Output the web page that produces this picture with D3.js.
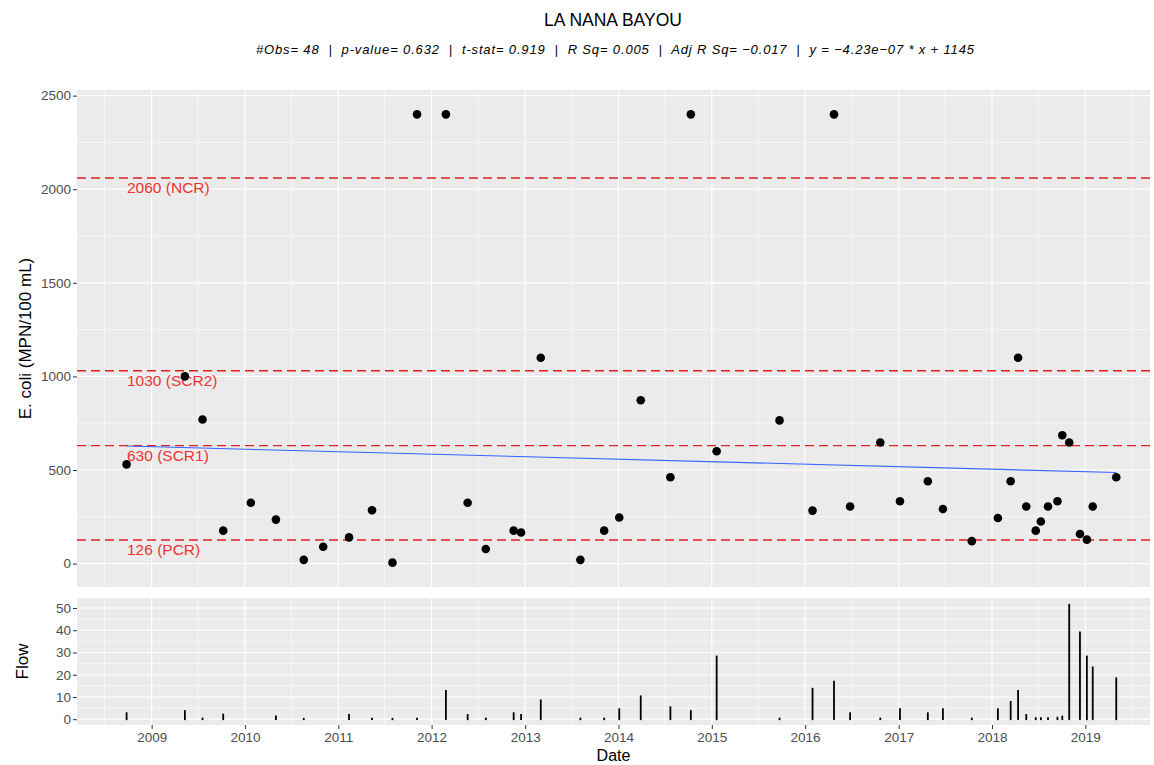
<!DOCTYPE html>
<html>
<head>
<meta charset="utf-8">
<script src="https://cdn.jsdelivr.net/npm/d3@7"></script>
<style>
  body { margin: 0; background: #fff; }
  text { font-family: "Liberation Sans", Arial, sans-serif; }
</style>
</head>
<body>
<div id="chart"></div>
<script>
// sample dates, E. coli results and flow (null = no flow recorded)
const sampleDates = [
  "2008-09-25", "2009-05-11", "2009-07-19", "2009-10-08", "2010-01-24", "2010-05-02",
  "2010-08-19", "2010-11-03", "2011-02-12", "2011-05-13", "2011-08-01", "2011-11-05",
  "2012-02-26", "2012-05-21", "2012-07-31", "2012-11-17", "2012-12-16", "2013-03-03",
  "2013-08-05", "2013-11-06", "2014-01-04", "2014-03-29", "2014-07-23", "2014-10-11",
  "2015-01-20", "2015-09-23", "2016-01-30", "2016-04-23", "2016-06-25", "2016-10-21",
  "2017-01-06", "2017-04-25", "2017-06-23", "2017-10-14", "2018-01-24", "2018-03-15",
  "2018-04-13", "2018-05-15", "2018-06-21", "2018-07-11", "2018-08-08", "2018-09-14",
  "2018-10-03", "2018-10-30", "2018-12-11", "2019-01-07", "2019-01-30", "2019-05-02"
];
const ecoli = [
  530, 1000, 770, 176, 325, 235,
  20, 90, 140, 285, 5, 2400,
  2400, 325, 78, 176, 166, 1100,
  20, 176, 246, 873, 461, 2400,
  600, 765, 283, 2400, 305, 647,
  333, 440, 292, 120, 244, 440,
  1100, 305, 176, 225, 305, 333,
  686, 647, 158, 128, 305, 461
];
const flow = [
  2.7, 3.7, 0.3, 2.1, null, 1.3,
  0.2, null, 1.9, 0.3, 0.2, 0.3,
  12.7, 1.9, 0.3, 2.7, 1.9, 8.5,
  0.3, 0.3, 4.5, 10.3, 5.4, 3.7,
  28.2, 0.3, 13.7, 16.9, 2.7, 0.3,
  4.5, 2.7, 4.5, 0.3, 4.5, 7.8,
  12.7, 1.9, 0.5, 0.5, 0.5, 0.7,
  1.2, 51.5, 39, 28.2, 23.3, 18.4
];

// criteria lines
const critValues = [2060, 1030, 630, 126];
const critLabels = ["2060 (NCR)", "1030 (SCR2)", "630 (SCR1)", "126 (PCR)"];

// regression from the subtitle (x in seconds since 1970)
const regSlope = -4.23e-07;
const regIntercept = 1145;

const ecoliTicks = [0, 500, 1000, 1500, 2000, 2500];
const flowTicks = [0, 10, 20, 30, 40, 50];

const title = "LA NANA BAYOU";
const subtitle = "#Obs= 48  |  p-value= 0.632  |  t-stat= 0.919  |  R Sq= 0.005  |  Adj R Sq= \u22120.017  |  y = \u22124.23e\u221207 * x + 1145";

const W = 1154, H = 765;
const left = 77, right = 1150;
const top1 = 90, bot1 = 587;
const top2 = 598, bot2 = 725;

const parse = d3.utcParse("%Y-%m-%d");
const rows = sampleDates.map((d, i) => ({ date: parse(d), ecoli: ecoli[i], flow: flow[i] }));

const svg = d3.select("#chart")
  .append("svg")
  .attr("width", W)
  .attr("height", H);

const x = d3.scaleUtc()
  .domain([parse("2008-03-15"), parse("2019-09-11")])
  .range([left, right]);

const y = d3.scaleLinear()
  .domain([-125, 2530])
  .range([bot1, top1]);

const yf = d3.scaleLinear()
  .domain([-2.6, 54.5])
  .range([bot2, top2]);

const majorX = d3.utcYear.range(parse("2009-01-01"), parse("2020-01-01"));
const minorX = d3.utcYear.range(parse("2008-01-01"), parse("2020-01-01")).map(d => d3.utcMonth.offset(d, 6));

function panel(ys, top, bot, majorY, minorY) {
  const g = svg.append("g");
  g.append("rect")
    .attr("x", left).attr("y", top)
    .attr("width", right - left).attr("height", bot - top)
    .attr("fill", "#EBEBEB");
  g.selectAll(".ymin").data(minorY).join("line")
    .attr("x1", left).attr("x2", right)
    .attr("y1", d => ys(d)).attr("y2", d => ys(d))
    .attr("stroke", "#fff").attr("stroke-width", 0.6);
  g.selectAll(".xmin").data(minorX).join("line")
    .attr("x1", d => x(d)).attr("x2", d => x(d))
    .attr("y1", top).attr("y2", bot)
    .attr("stroke", "#fff").attr("stroke-width", 0.6);
  g.selectAll(".ymaj").data(majorY).join("line")
    .attr("x1", left).attr("x2", right)
    .attr("y1", d => ys(d)).attr("y2", d => ys(d))
    .attr("stroke", "#fff").attr("stroke-width", 1.2);
  g.selectAll(".xmaj").data(majorX).join("line")
    .attr("x1", d => x(d)).attr("x2", d => x(d))
    .attr("y1", top).attr("y2", bot)
    .attr("stroke", "#fff").attr("stroke-width", 1.2);

  // left axis
  const ax = svg.append("g")
    .attr("transform", `translate(${left},0)`)
    .call(d3.axisLeft(ys).tickValues(majorY).tickFormat(d3.format("d")).tickSize(4).tickPadding(2));
  ax.select(".domain").remove();
  ax.selectAll("line").attr("stroke", "#333");
  ax.selectAll("text").attr("fill", "#4D4D4D").style("font-size", "13.5px")
    .style("font-family", '"Liberation Sans", Arial, sans-serif');
}

panel(y, top1, bot1, ecoliTicks, [250, 750, 1250, 1750, 2250]);
panel(yf, top2, bot2, flowTicks, [5, 15, 25, 35, 45]);

// criteria lines + labels
svg.selectAll(".crit").data(critValues).join("line")
  .attr("x1", left).attr("x2", right)
  .attr("y1", d => y(d)).attr("y2", d => y(d))
  .attr("stroke", "#E02020")
  .attr("stroke-width", 1.4)
  .attr("stroke-dasharray", "9,5");

svg.selectAll(".critlab").data(critValues).join("text")
  .attr("x", 127)
  .attr("y", d => y(d) + 15)
  .attr("fill", "#EE3333")
  .style("font-size", "15.5px")
  .text((d, i) => critLabels[i]);

// regression line
const ext = d3.extent(rows, d => d.date);
svg.append("path")
  .datum(ext)
  .attr("fill", "none")
  .attr("stroke", "#3366FF")
  .attr("stroke-width", 1.1)
  .attr("d", d3.line()
    .x(d => x(d))
    .y(d => y(regIntercept + regSlope * d.getTime() / 1000)));

// points
svg.selectAll(".pt").data(rows).join("circle")
  .attr("cx", d => x(d.date))
  .attr("cy", d => y(d.ecoli))
  .attr("r", 4.3)
  .attr("fill", "#000");

// flow segments
svg.selectAll(".fl").data(rows.filter(d => d.flow !== null)).join("line")
  .attr("x1", d => x(d.date)).attr("x2", d => x(d.date))
  .attr("y1", yf(0)).attr("y2", d => yf(d.flow))
  .attr("stroke", "#000")
  .attr("stroke-width", 1.8)
  .attr("stroke-linecap", "square");

// bottom axis
const xa = svg.append("g")
  .attr("transform", `translate(0,${bot2})`)
  .call(d3.axisBottom(x).tickValues(majorX).tickFormat(d3.utcFormat("%Y")).tickSize(4).tickPadding(3));
xa.select(".domain").remove();
xa.selectAll("line").attr("stroke", "#333");
xa.selectAll("text").attr("fill", "#4D4D4D").style("font-size", "13.5px")
  .style("font-family", '"Liberation Sans", Arial, sans-serif');

// titles
svg.append("text")
  .attr("x", 613).attr("y", 26)
  .attr("text-anchor", "middle")
  .style("font-size", "17.5px")
  .text(title);

svg.append("text")
  .attr("x", 615).attr("y", 54)
  .attr("text-anchor", "middle")
  .attr("textLength", 718)
  .attr("lengthAdjust", "spacing")
  .style("font-size", "13px")
  .style("font-style", "italic")
  .style("white-space", "pre")
  .text(subtitle);

svg.append("text")
  .attr("transform", `translate(31,${(top1 + bot1) / 2}) rotate(-90)`)
  .attr("text-anchor", "middle")
  .style("font-size", "17px")
  .text("E. coli (MPN/100 mL)");

svg.append("text")
  .attr("transform", `translate(28,${(top2 + bot2) / 2}) rotate(-90)`)
  .attr("text-anchor", "middle")
  .style("font-size", "17px")
  .text("Flow");

svg.append("text")
  .attr("x", (left + right) / 2).attr("y", 761)
  .attr("text-anchor", "middle")
  .style("font-size", "16px")
  .text("Date");
</script>
</body>
</html>
